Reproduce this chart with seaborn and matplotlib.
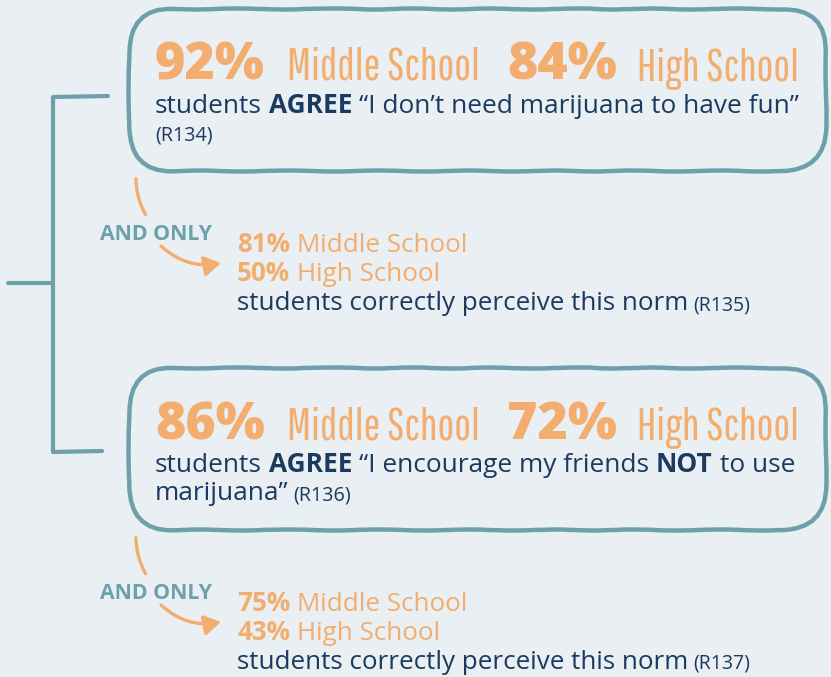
import matplotlib
matplotlib.use("Agg")
import matplotlib.pyplot as plt
import seaborn as sns
from matplotlib.patches import FancyBboxPatch, FancyArrowPatch
from matplotlib import font_manager as fm

# ---------------- data ----------------
groups = ["Middle School", "High School"]
agree_ms = [92, 86]
agree_hs = [84, 72]
perceive_ms = [81, 75]
perceive_hs = [50, 43]
refs_agree = ["(R134)", "(R136)"]
refs_perceive = ["(R135)", "(R137)"]
connector = "AND ONLY"
perceive_text = "students correctly perceive this norm"

# ---------------- style ----------------
BG = "#E9EFF2"
TEAL = "#6CA1AC"
ORANGE = "#F2AD6F"
NAVY = "#1B3A60"

sns.set_theme(style="white", rc={"figure.facecolor": BG, "axes.facecolor": BG})


def weights(name):
    out = set()
    for f in fm.fontManager.ttflist:
        if f.name == name:
            try:
                out.add(int(f.weight))
            except (TypeError, ValueError):
                out.add(400)
    return out


mw = weights("Montserrat")
if {400, 700} <= mw:
    MAIN = "Montserrat"
    HEAVY = 800 if 800 in mw else 700
    BOLDW = 700
else:
    MAIN = "Open Sans" if weights("Open Sans") else "DejaVu Sans"
    HEAVY = "heavy"
    BOLDW = "bold"

COND, CONDW = "Barlow Condensed", 300
for cand in ["Pathway Gothic One", "Saira Extra Condensed", "Fira Sans Extra Condensed",
             "Sofia Sans Extra Condensed", "Antonio", "Oswald",
             "Roboto Condensed", "Barlow Condensed", "Asap Condensed"]:
    w = weights(cand)
    if w:
        COND = cand
        CONDW = 300 if 300 in w else (200 if 200 in w else 400)
        break

plt.rcParams["font.family"] = [MAIN, "DejaVu Sans"]

fig = plt.figure(figsize=(8.31, 6.77), dpi=100)
ax = fig.add_axes([0, 0, 1, 1])
ax.set_xlim(0, 831)
ax.set_ylim(677, 0)
ax.axis("off")
fig.canvas.draw()
R = fig.canvas.get_renderer()


def width(s, size, **kw):
    t = ax.text(0, 0, s, fontsize=size, **kw)
    w = t.get_window_extent(R).width
    t.remove()
    return w


def fit(s, target, base=20, **kw):
    sz = base
    for _ in range(3):
        sz = sz * target / width(s, sz, **kw)
    return sz


def line_width(parts, size):
    tot = 0
    for i, (s, kw, rel) in enumerate(parts):
        tot += width(s, size * rel, **kw)
        if i:
            tot += width("a a", size * rel, **kw) - width("aa", size * rel, **kw)
    return tot


def fit_line(parts, target, base=16):
    sz = base
    for _ in range(3):
        sz = sz * target / line_width(parts, sz)
    return sz


def draw_line(x, y, parts, size):
    for i, (s, kw, rel) in enumerate(parts):
        if i:
            x += width("a a", size * rel, **kw) - width("aa", size * rel, **kw)
        ax.text(x, y, s, fontsize=size * rel, ha="left", va="baseline", **kw)
        x += width(s, size * rel, **kw)


REG = dict(color=NAVY, fontweight="normal")
BOLD = dict(color=NAVY, fontweight=BOLDW)
OREG = dict(color=ORANGE, fontweight="normal")
OBOLD = dict(color=ORANGE, fontweight=BOLDW)

# sizes
big_kw = dict(color=ORANGE, fontweight=HEAVY)
cond_kw = dict(color=ORANGE, fontweight=CONDW, family=[COND, MAIN, "DejaVu Sans"])
S_BIG = fit(f"{agree_ms[0]}%", 110, **big_kw)
S_COND = fit(groups[0], 193, **cond_kw)

line1 = [("students", REG, 1), ("AGREE", BOLD, 1),
         ("“I don’t need marijuana to have fun”", REG, 1)]
S_BODY = fit_line(line1, 645)

plines = [(perceive_text, REG, 1), (refs_perceive[0], REG, 0.75)]
S_P = fit_line(plines, 514)

# ---------------- boxes ----------------
box_tops = [9, 368]
statements = [
    [line1, [(refs_agree[0], REG, 0.75)]],
    [[("students", REG, 1), ("AGREE", BOLD, 1), ("“I encourage my friends", REG, 1),
      ("NOT", BOLD, 1), ("to use", REG, 1)],
     [("marijuana”", REG, 1), (refs_agree[1], REG, 0.75)]],
]

for k, top in enumerate(box_tops):
    h = 162
    box = FancyBboxPatch((129, top), 697, h, boxstyle="round,pad=0,rounding_size=44",
                         fc="none", ec=TEAL, lw=3.2)
    box.set_sketch_params(scale=0.5, length=120, randomness=4)
    ax.add_patch(box)
    base = top + 71
    # big percent row
    ax.text(155, base, f"{agree_ms[k]}%", fontsize=S_BIG, ha="left", va="baseline", **big_kw)
    ax.text(287, base, groups[0], fontsize=S_COND, ha="left", va="baseline", **cond_kw)
    ax.text(507, base, f"{agree_hs[k]}%", fontsize=S_BIG, ha="left", va="baseline", **big_kw)
    ax.text(637, base, groups[1], fontsize=S_COND, ha="left", va="baseline", **cond_kw)
    for j, ln in enumerate(statements[k]):
        draw_line(155, top + 104 + 28 * j, ln, S_BODY)

    # connector
    off = top - 9
    c = FancyArrowPatch((136, off + 176), (147, off + 217), arrowstyle="-",
                        connectionstyle="arc3,rad=0.15", color=ORANGE, lw=2.4,
                        capstyle="round")
    ax.add_patch(c)
    ax.text(100, off + 240, connector, fontsize=fit(connector, 112, fontweight=BOLDW),
            fontweight=BOLDW, color=TEAL, ha="left", va="baseline")
    a = FancyArrowPatch((161, off + 246), (221, off + 263),
                        arrowstyle="-|>,head_length=10,head_width=6",
                        connectionstyle="arc3,rad=0.25", color=ORANGE, lw=2.4,
                        mutation_scale=1, shrinkA=0, shrinkB=0)
    ax.add_patch(a)
    draw_line(237, off + 252, [(f"{perceive_ms[k]}%", OBOLD, 1), (groups[0], OREG, 1)], S_P)
    draw_line(237, off + 281, [(f"{perceive_hs[k]}%", OBOLD, 1), (groups[1], OREG, 1)], S_P)
    draw_line(237, off + 310, [(perceive_text, REG, 1), (refs_perceive[k], REG, 0.75)], S_P)

# bracket
bk = dict(color=TEAL, lw=3.0, solid_capstyle="round", solid_joinstyle="round")
ax.plot([108, 53, 53, 102], [96, 97, 452, 451], **bk)
ax.plot([8, 53], [283, 283], **bk)

fig.savefig("out.png", dpi=100, facecolor=BG)
